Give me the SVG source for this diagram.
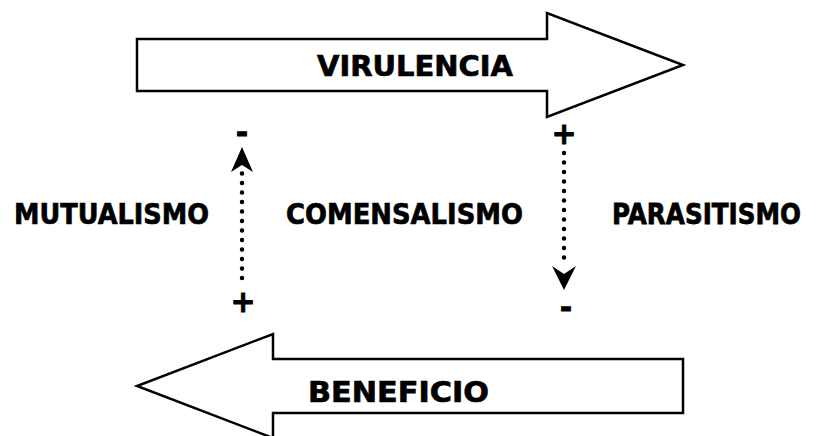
<svg xmlns="http://www.w3.org/2000/svg" width="816" height="436" viewBox="0 0 816 436">
<style>
.arrow{fill:#fff;stroke:#000;stroke-width:2.5;stroke-linejoin:miter}
.t{font-family:"DejaVu Sans",Verdana,sans-serif;font-weight:bold;font-size:28px;fill:#000;stroke:#000;stroke-width:0.7}
.big{font-size:29px}
.s{font-family:"DejaVu Sans",Verdana,sans-serif;font-weight:bold;font-size:30px;fill:#000;stroke:#000;stroke-width:0.8;text-anchor:middle}
.dot{stroke:#000;stroke-width:4.5;stroke-linecap:round;stroke-dasharray:0 9.5;fill:none}
</style>
<rect width="816" height="436" fill="#fff"/>
<g id="virulencia">
<polygon class="arrow" points="137,39 547,39 547,13 683,65 547,117 547,91 137,91"/>
<text class="t big" x="317" y="76" textLength="196" lengthAdjust="spacingAndGlyphs">VIRULENCIA</text>
</g>
<g id="beneficio">
<polygon class="arrow" points="683,359 273,359 273,334 137,386 273,438 273,413 683,413"/>
<text class="t big" x="308" y="402" textLength="181" lengthAdjust="spacingAndGlyphs">BENEFICIO</text>
</g>
<g id="mutualismo"><text class="t" x="14" y="224" textLength="195" lengthAdjust="spacingAndGlyphs">MUTUALISMO</text></g>
<g id="comensalismo"><text class="t" x="286" y="224" textLength="237" lengthAdjust="spacingAndGlyphs">COMENSALISMO</text></g>
<g id="parasitismo"><text class="t" transform="translate(612,224) scale(1,1.17)" x="0" y="0" style="font-size:24px;stroke-width:0.65" textLength="189" lengthAdjust="spacingAndGlyphs">PARASITISMO</text></g>
<g id="connectors">
<line class="dot" x1="242" y1="278" x2="242" y2="173"/>
<path d="M242,147 L253,172 L242,165 L231,172 Z" fill="#000"/>
<line class="dot" x1="564" y1="153" x2="564" y2="267"/>
<path d="M564,290 L576,266 L564,274 L552,266 Z" fill="#000"/>
</g>
<g id="signs">
<text class="s" x="242" y="143">-</text>
<text class="s" x="243" y="312">+</text>
<text class="s" x="564" y="144">+</text>
<text class="s" x="566" y="318">-</text>
</g>
</svg>
